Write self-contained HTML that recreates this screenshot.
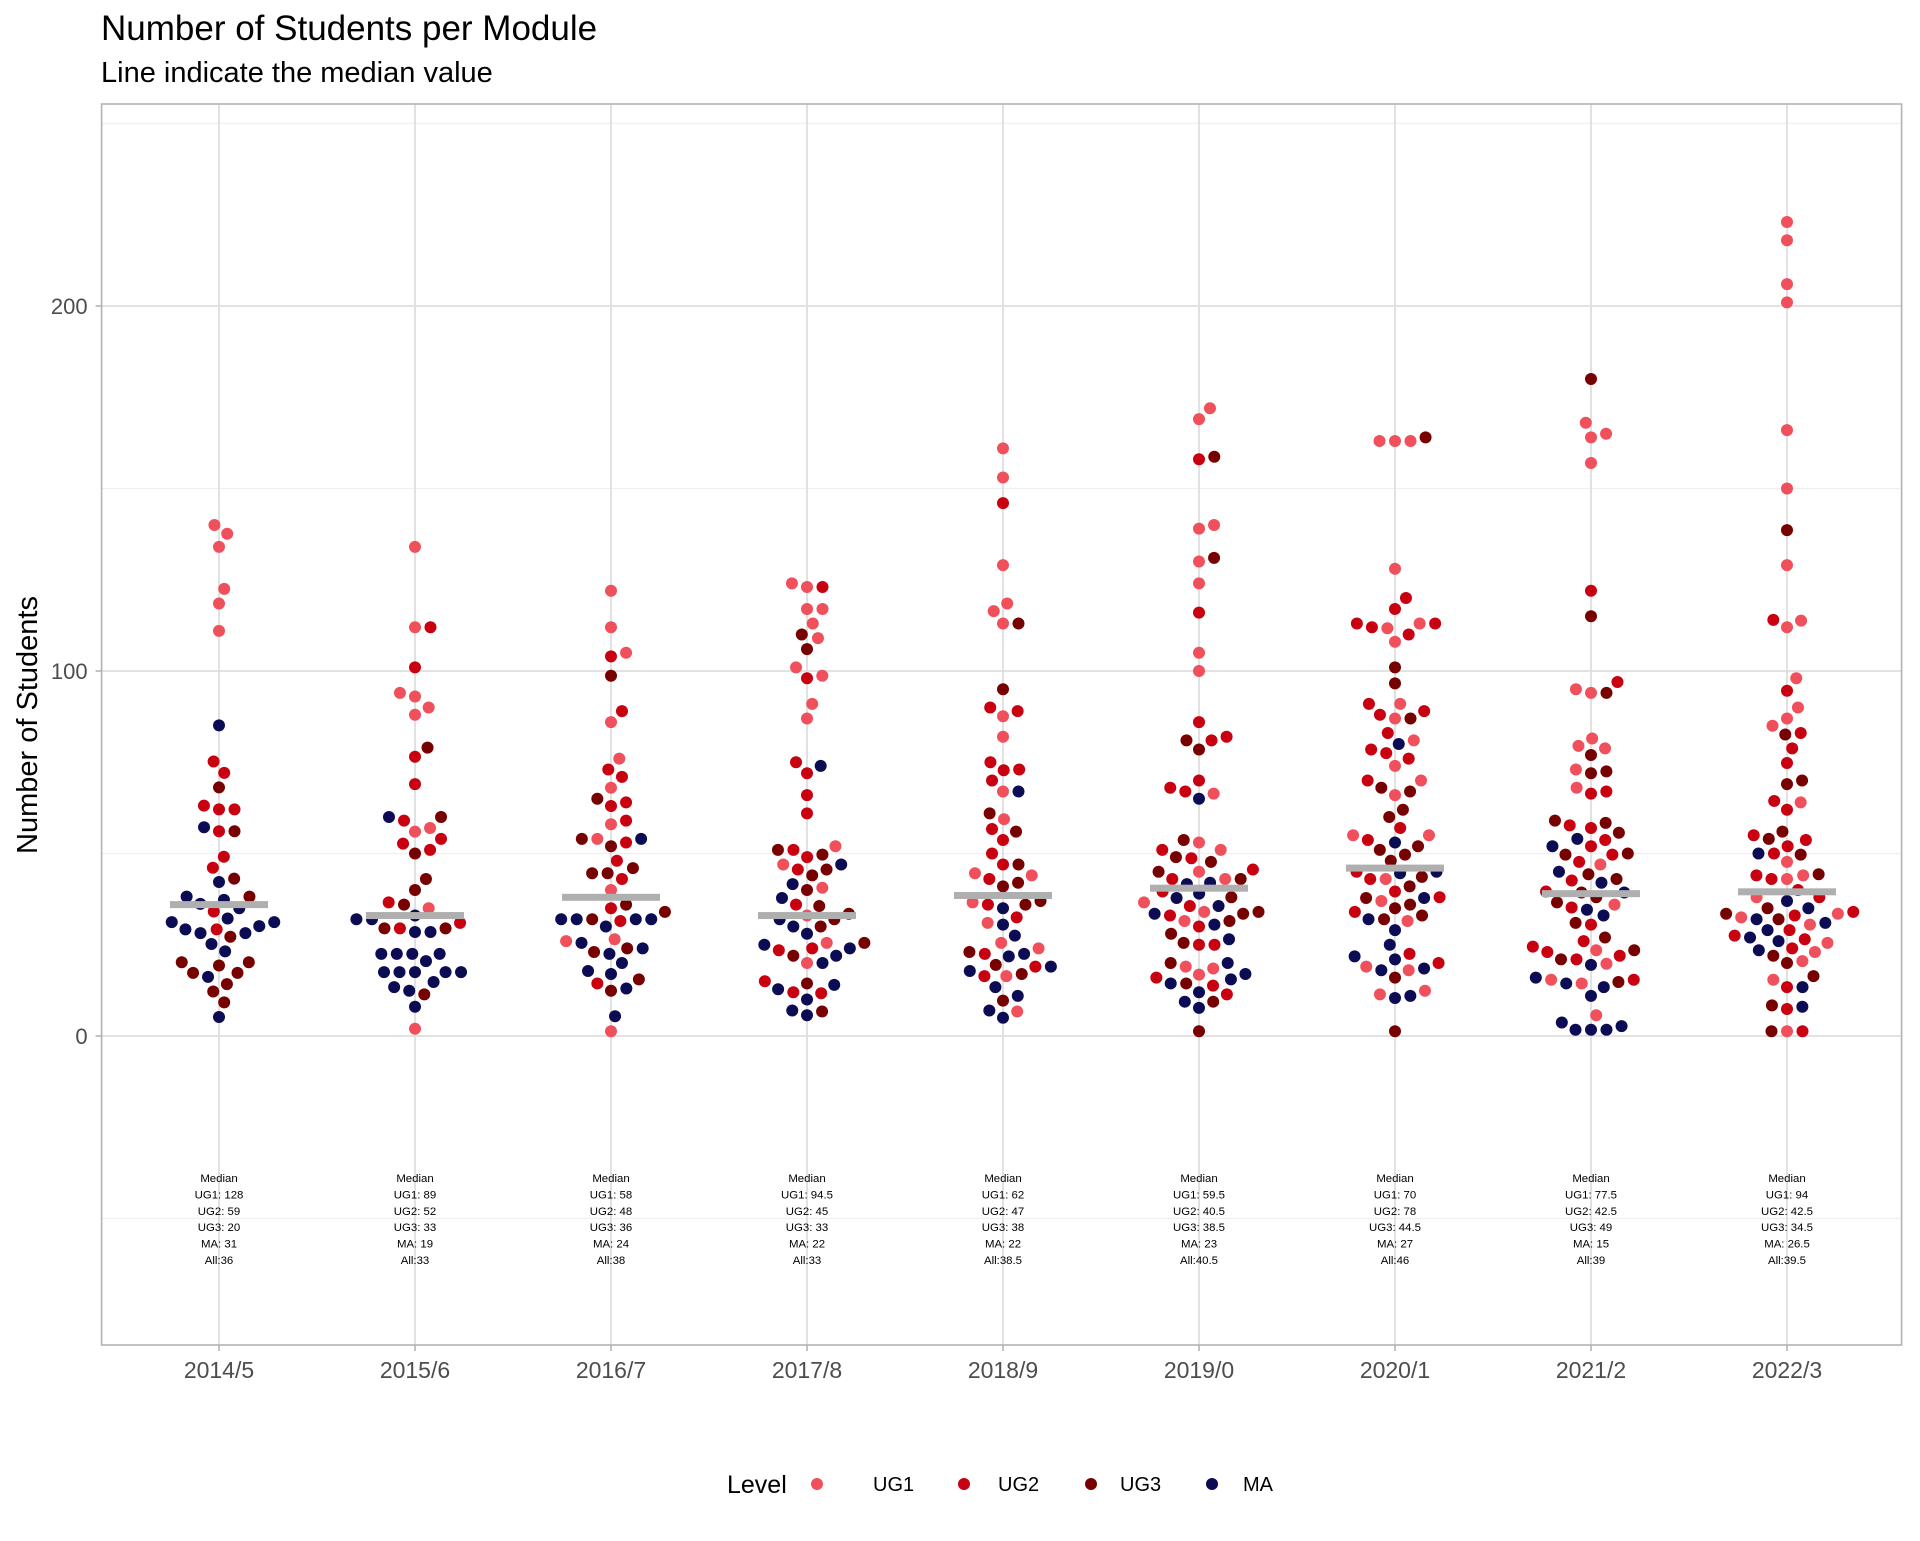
<!DOCTYPE html>
<html><head><meta charset="utf-8"><style>
html,body{margin:0;padding:0;background:#fff;}
svg text{font-family:"Liberation Sans",Arial,sans-serif;}
</style></head><body>
<svg id="chart" width="1920" height="1536" viewBox="0 0 1920 1536" xmlns="http://www.w3.org/2000/svg">
<rect width="1920" height="1536" fill="#fff"/>
<text x="101" y="40" font-size="35" fill="#000">Number of Students per Module</text>
<text x="101" y="82" font-size="29" fill="#000">Line indicate the median value</text>
<g id="grid"></g>
<g id="marks"></g>
<g id="medians"></g>
<g id="axes"></g>
<text transform="translate(37,725) rotate(-90)" text-anchor="middle" font-size="29" fill="#000">Number of Students</text>
<g>
<text x="727" y="1493" font-size="25" fill="#000">Level</text>
<circle cx="817" cy="1484" r="6" fill="#f0505c"/>
<text x="873" y="1491" font-size="20" fill="#000">UG1</text>
<circle cx="964" cy="1484" r="6" fill="#c8000f"/>
<text x="998" y="1491" font-size="20" fill="#000">UG2</text>
<circle cx="1091" cy="1484" r="6" fill="#770000"/>
<text x="1120" y="1491" font-size="20" fill="#000">UG3</text>
<circle cx="1212" cy="1484" r="6" fill="#0c0c55"/>
<text x="1243" y="1491" font-size="20" fill="#000">MA</text>
</g>
</svg>
<script>
const years = ["2014/5","2015/6","2016/7","2017/8","2018/9","2019/0","2020/1","2021/2","2022/3"];
const levels = ["UG1","UG2","UG3","MA"];
const ug1 = [
 [140,137.6,134,122.5,118.5,111],
 [134,112,94,93,90,88,57,56,35,2],
 [122,112,105,86,76,68,58,54,40,26.5,26,1.3],
 [124,123,117,117,113,109,101,98.7,91,87,52,47,40.6,33,25.5,20],
 [161,153,129,118.5,116.4,113,87.6,82,67,59.4,44.6,44,36.6,31,25.5,24,16.4,6.7],
 [172,169,140,139,130,124,105,100,66.4,53,51,45,43,36.6,34,31.5,19,18.5,16.8],
 [163,163,163,128,113,111.7,108,91,87,81,74,70,66,55,55,43,37,31.5,19,18,12.4,11.4],
 [168,164,165,157,95,94,81.5,79.5,78.8,73,68,47,36,23.5,19.8,15.4,14.4,5.7],
 [223,218,206,201,166,150,129,112,113.8,98,90,87,85,64,47.7,44,43,38,33.5,32.5,30.5,25.5,23,20.5,15.4,1.3]
];
const ug2 = [
 [75.2,72.1,63.1,62.1,62.1,56.1,49.1,46.1,34.1,29.2],
 [112,101,76.5,69,59,54,52.7,51,36.6,31,29.5],
 [104,89,71,73,63,64,59,53,48,43,35,31.5,14.4],
 [123,98,75,72,66,61,51,49,45.6,36,23.5,24,15,12,11.7],
 [146,90,89,73,75,70,72.8,56.7,53.7,50,47,43,36,32.5,22.5,19,16.4],
 [158,116,86,82,81,70,68,67,51,48.7,45.6,43,39.6,35.6,33,30,25,25,13.8,11.4,16],
 [120,117,112,113,110,113,91,89,88,83,78.5,77.5,76,70,57,53.7,45,43,39.6,38,34,22.5,20],
 [122,97,67,66.4,57.7,57,53.7,52,49.7,47.7,42.6,39.6,35.2,30.5,26,24.5,23,22,21,15.4],
 [114,94.6,83,78.8,74.8,64.4,62,55,53.7,52,50,44,43,40,38,34,33,29,27.5,26.5,24,13.4,7.4,1.3]
];
const ug3 = [
 [68.1,56.1,43.1,38.2,27.2,20.2,19.3,20.2,17.3,17.3,14.2,12.2,9.2],
 [79,60,50,43,40,36,29.5,29.5,11.4],
 [98.7,65,54,52,46,44.6,44.6,36,34,32,24,23,15.5,12.4],
 [110,106,51,49.7,45.6,44,40,35.6,33.5,32,30,25.5,22,14.4,6.7],
 [113,95,61,56,47,42,41,37,36,23,19.5,17,9.7],
 [158.7,131,81,78.5,53.7,49,47.7,45,43,38,34,33.5,31.5,28,25.5,20,14.4,9.4,1.3],
 [164,101,96.6,87,68,67,62,60,52,51,49.7,48,43.6,41,37.8,36,35,33,32,16,1.3],
 [180,115,94,77,72.5,72,59,58.4,55.7,50,49.7,44.3,43,39.3,38,36.6,31,27,23.5,21,14.8],
 [138.6,82.6,70,69,56,54,49.7,44.3,35,33.5,32,22,20,16.4,8.4,1.3]
];
const ma = [
 [85.1,57.2,42.2,38.2,36.2,37.3,35,31.2,31.2,32.2,30.1,29.2,28.2,28.2,25.2,23.2,16.2,5.2],
 [60,33,32,32,28.5,28.5,22.5,22.5,22.5,22.5,20.5,17.5,17.5,17.5,17.5,17.5,14.8,13.4,12.4,8],
 [54,32,32,32,32,30,25.5,24,22.5,20,17.8,17,13,5.4],
 [74,47,41.6,37.8,32,30,28,25,24,22,20,14,12.8,10,7,5.7],
 [67,35,30.5,27.5,22.5,21.8,19,17.8,13.4,11,7,5],
 [65,42,41.6,39,37.8,35.6,33.5,30.5,26.5,20,15.5,14.4,12,9.4,7.7,17],
 [80,53,45,44.6,37.8,32,29,25,21.8,21,18.5,18,11,10.4],
 [54,52,45,42,39.3,34.6,33,19.5,16,14.4,13.4,11,3.7,2.7,1.7,1.7,1.7],
 [50,37,35,31,27,26,23.5,13.4,8,29,32]
];
const medianAll = [36,33,38,33,38.5,40.5,46,39,39.5];
const medianUG1 = ["128","89","58","94.5","62","59.5","70","77.5","94"];
const medianUG2 = ["59","52","48","45","47","40.5","78","42.5","42.5"];
const medianUG3 = ["20","33","36","33","38","38.5","44.5","49","34.5"];
const medianMA = ["31","19","24","22","22","23","27","15","26.5"];
const yTicks = [0,100,200];
const yMinor = [-50,50,150,250];

const NS="http://www.w3.org/2000/svg";
const PL=101.6, PR=1901.6, PT=104, PB=1345;
const Y0=1036, PXU=3.65;
function yScale(v){return Y0 - v*PXU;}
function xScale(i){return 219 + i*196;}
const colors={UG1:"#f0505c",UG2:"#c8000f",UG3:"#770000",MA:"#0c0c55"};
function mk(tag,attrs,parent){const e=document.createElementNS(NS,tag);for(const k in attrs)e.setAttribute(k,attrs[k]);parent.appendChild(e);return e;}

const grid=document.getElementById('grid');
const bg=mk('rect',{x:PL,y:PT,width:PR-PL,height:PB-PT,fill:'#fff'},grid);


yMinor.forEach(v=>{const l=mk('line',{x1:PL,x2:PR,y1:yScale(v),y2:yScale(v),stroke:'#efefef','stroke-width':1.3},grid);

});
yTicks.forEach(v=>{const l=mk('line',{x1:PL,x2:PR,y1:yScale(v),y2:yScale(v),stroke:'#dedede','stroke-width':1.8},grid);

});
years.forEach((y,i)=>{const l=mk('line',{x1:xScale(i),x2:xScale(i),y1:PT,y2:PB,stroke:'#dedede','stroke-width':1.8},grid);

});

const marks=document.getElementById('marks');
const D=15.5;
const series=[ug1,ug2,ug3,ma];
years.forEach((yr,i)=>{
  let pts=[];
  series.forEach((s,li)=>s[i].forEach(v=>pts.push({v,lv:levels[li]})));
  pts.sort((a,b)=>a.v-b.v);
  const placed=[];
  pts.forEach(p=>{
    const py=yScale(p.v);
    const near=placed.filter(q=>Math.abs(q.y-py)<D);
    let cands=[0];
    near.forEach(q=>{const dx=Math.sqrt(D*D-(q.y-py)**2);cands.push(q.x+dx,q.x-dx);});
    cands.sort((a,b)=>Math.abs(a)-Math.abs(b));
    let best=0;
    for(const c of cands){if(near.every(q=>(q.x-c)**2+(q.y-py)**2>=D*D-0.01)){best=c;break;}}
    placed.push({x:best,y:py,lv:p.lv});
  });
  placed.forEach(p=>{
    const c=mk('circle',{cx:xScale(i)+p.x,cy:p.y,r:6,fill:colors[p.lv]},marks);
    
    
  });
});

const med=document.getElementById('medians');
medianAll.forEach((m,i)=>{
  const r=mk('rect',{x:xScale(i)-49,y:yScale(m)-3.5,width:98,height:7,fill:'#afafaf'},med);
  
  
  const lines=["Median","UG1: "+medianUG1[i],"UG2: "+medianUG2[i],"UG3: "+medianUG3[i],"MA: "+medianMA[i],"All:"+m];
  lines.forEach((t,k)=>{
    const tx=mk('text',{x:xScale(i),y:1182+k*16.4,'text-anchor':'middle','font-size':11.4,fill:'#000'},med);
    tx.textContent=t;
    
    
  });
});

const ax=document.getElementById('axes');
const border=mk('rect',{x:PL,y:PT,width:PR-PL,height:PB-PT,fill:'none',stroke:'#b3b3b3','stroke-width':1.6},ax);


yTicks.forEach(v=>{
  const t=mk('line',{x1:PL-6,x2:PL,y1:yScale(v),y2:yScale(v),stroke:'#b3b3b3','stroke-width':1.6},ax);
  
  
  const tx=mk('text',{x:PL-14,y:yScale(v)+8,'text-anchor':'end','font-size':22,fill:'#4d4d4d'},ax);
  tx.textContent=v;
  
  
});
years.forEach((y,i)=>{
  const t=mk('line',{x1:xScale(i),x2:xScale(i),y1:PB,y2:PB+6,stroke:'#b3b3b3','stroke-width':1.6},ax);
  
  
  const tx=mk('text',{x:xScale(i),y:1378,'text-anchor':'middle','font-size':23,fill:'#4d4d4d'},ax);
  tx.textContent=y;
  
  
});
</script>
</body></html>
